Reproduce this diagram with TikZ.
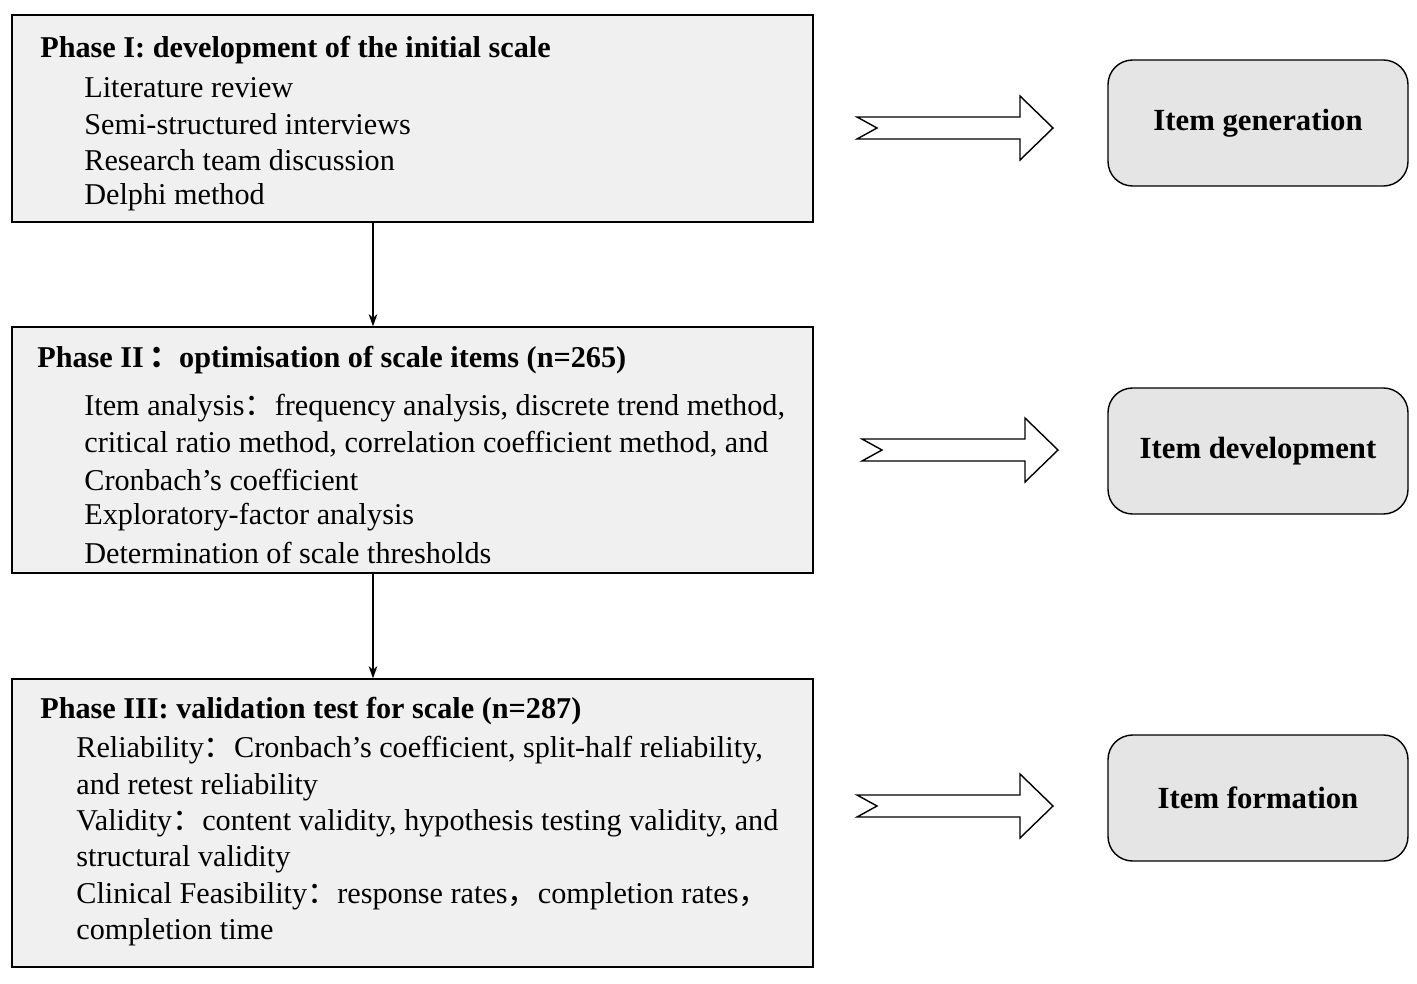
\documentclass[tikz,border=0pt]{standalone}
\usepackage{fontspec}
\usetikzlibrary{arrows.meta}
\setmainfont{Liberation Serif}
\newfontfamily\cjk{Noto Sans CJK SC}
\newcommand{\fc}{{\cjk ：}}
\newcommand{\fcm}{{\cjk ，}}
\begin{document}
\begin{tikzpicture}[x=0.02cm,y=-0.02cm]
	\tikzset{phase/.style = {draw, thick, fill=gray!12, inner sep=0pt}}
	\tikzset{stage/.style = {draw, thick, fill=gray!20, rounded corners=14pt, inner sep=0pt, font=\fontsize{17.5}{20}\selectfont\bfseries}}
	\tikzset{txt/.style = {anchor=west, inner sep=0pt, font=\fontsize{17.2}{20.5}\selectfont}}
	\tikzset{head/.style = {txt, font=\fontsize{17.2}{20.5}\selectfont\bfseries}}
	\tikzset{edge/.style = {-{Stealth[length=7pt,width=5pt]}, thick}}
	\tikzset{fat/.style = {draw, thick, fill=white}}
	\useasboundingbox (0,0) rectangle (1417,984);

	% boxes
	\node[phase] (p1) at (412.5,118.5) [minimum width=801*0.02cm, minimum height=207*0.02cm] {};
	\node[phase] (p2) at (412.5,450) [minimum width=801*0.02cm, minimum height=246*0.02cm] {};
	\node[phase] (p3) at (412.5,823) [minimum width=801*0.02cm, minimum height=288*0.02cm] {};

	\node[stage] (s1) at (1258,123) [minimum width=300*0.02cm, minimum height=126*0.02cm] {Item generation};
	\node[stage] (s2) at (1258,451) [minimum width=300*0.02cm, minimum height=126*0.02cm] {Item development};
	\node[stage] (s3) at (1258,798) [minimum width=300*0.02cm, minimum height=126*0.02cm] {Item formation};

	% texts
	\node[head] (h1) at (40,50) {Phase I: development of the initial scale};
	\node[txt] at (84,88) {Literature review};
	\node[txt] at (84,124) {Semi-structured interviews};
	\node[txt] at (84,160) {Research team discussion};
	\node[txt] at (84,197) {Delphi method};

	\node[head] (h2) at (37,360) {Phase II\,\fc optimisation of scale items (n=265)};
	\node[txt] at (84,408) {Item analysis\fc frequency analysis, discrete trend method,};
	\node[txt] at (84,444) {critical ratio method, correlation coefficient method, and};
	\node[txt] at (84,480) {Cronbach's coefficient};
	\node[txt] at (84,517) {Exploratory-factor analysis};
	\node[txt] at (84,553) {Determination of scale thresholds};

	\node[head] (h3) at (40,711) {Phase III: validation test for scale (n=287)};
	\node[txt] at (76,750) {Reliability\fc Cronbach's coefficient, split-half reliability,};
	\node[txt] at (76,787) {and retest reliability};
	\node[txt] at (76,823) {Validity\fc content validity, hypothesis testing validity, and};
	\node[txt] at (76,859) {structural validity};
	\node[txt] at (76,896) {Clinical Feasibility\fc response rates\fcm completion rates\fcm};
	\node[txt] at (76,932) {completion time};

	% connectors
	\draw[edge] (p1.south -| 373,0) -- (p2.north -| 373,0);
	\draw[edge] (p2.south -| 373,0) -- (p3.north -| 373,0);

	% fat arrows
	\foreach \yy/\xo in {128/0, 450/5, 806/0}
		\draw[fat] (857+\xo,\yy-11) -- (1020+\xo,\yy-11) -- (1020+\xo,\yy-32) -- (1053+\xo,\yy)
			-- (1020+\xo,\yy+32) -- (1020+\xo,\yy+11) -- (857+\xo,\yy+11) -- (877+\xo,\yy) -- cycle;
\end{tikzpicture}
\end{document}
